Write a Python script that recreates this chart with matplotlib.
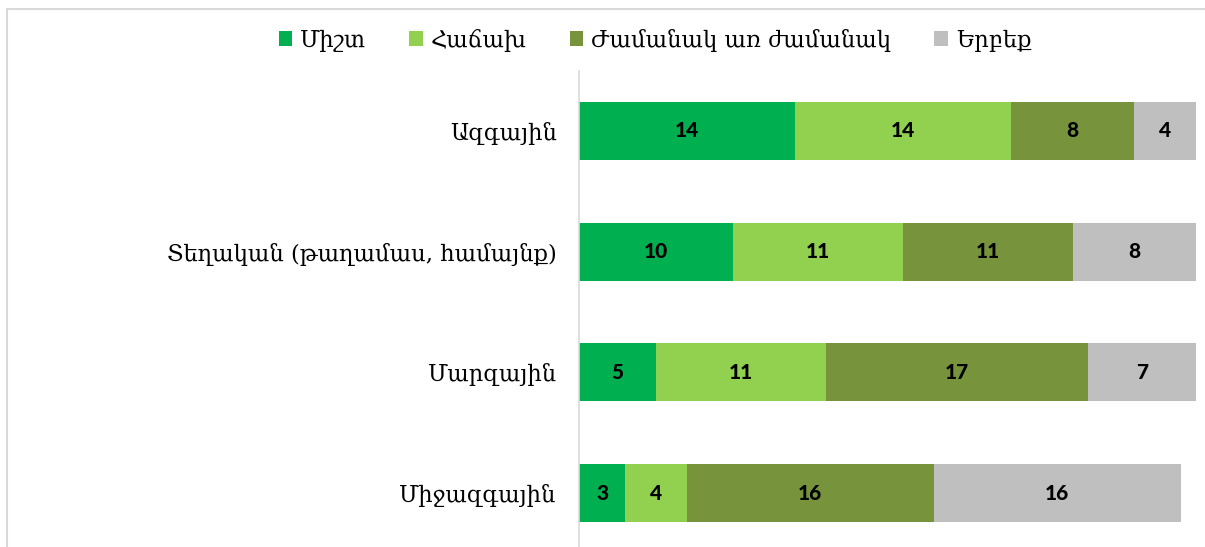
import numpy as np
import matplotlib.pyplot as plt
from matplotlib.patches import Rectangle

# data
categories = ["Ազգային", "Տեղական (թաղամաս, համայնք)", "Մարզային", "Միջազգային"]
series_names = ["Միշտ", "Հաճախ", "Ժամանակ առ ժամանակ", "Երբեք"]
always = [14, 10, 5, 3]
often = [14, 11, 11, 4]
sometimes = [8, 11, 17, 16]
never = [4, 8, 7, 16]
colors = ["#00B050", "#92D050", "#77933C", "#BFBFBF"]

series = [always, often, sometimes, never]

fig = plt.figure(figsize=(12.05, 5.47), dpi=100)
ax = fig.add_axes([579 / 1205, 1 - 553.5 / 547, (1196 - 579) / 1205, 483 / 547])

y = np.arange(len(categories))
left = np.zeros(len(categories))
for name, vals, c in zip(series_names, series, colors):
    bars = ax.barh(y, vals, left=left, height=0.48, color=c, label=name)
    for b, v in zip(bars, vals):
        ax.text(b.get_x() + b.get_width() / 2, b.get_y() + b.get_height() / 2, str(v),
                ha="center", va="center", fontsize=15, fontweight="black",
                family=["Lato", "DejaVu Sans"])
    left += np.array(vals)

ax.set_xlim(0, 40)
ax.set_ylim(len(categories) - 0.5, -0.5)
ax.set_yticks(y)
ax.set_yticklabels(categories, family=["DejaVu Serif"], fontsize=16.3)
ax.tick_params(axis="y", length=0, pad=16)
ax.set_xticks([])
for s in ["top", "right", "bottom"]:
    ax.spines[s].set_visible(False)
ax.spines["left"].set_color("#D9D9D9")
ax.spines["left"].set_linewidth(1.2)

leg = fig.legend(loc="center", bbox_to_anchor=(655 / 1205, 1 - 40 / 547), ncol=4, frameon=False,
                 prop={"family": ["DejaVu Serif"], "size": 16.3}, handlelength=0.6,
                 handleheight=0.6, handletextpad=0.35, columnspacing=1.9)

# chart border
fig.patches.append(Rectangle((7 / 1205, -0.1), 1.2, 1 - 9 / 547 + 0.1, transform=fig.transFigure,
                             fill=False, edgecolor="#D9D9D9", linewidth=1.5))

fig.savefig("out.png", dpi=100)
